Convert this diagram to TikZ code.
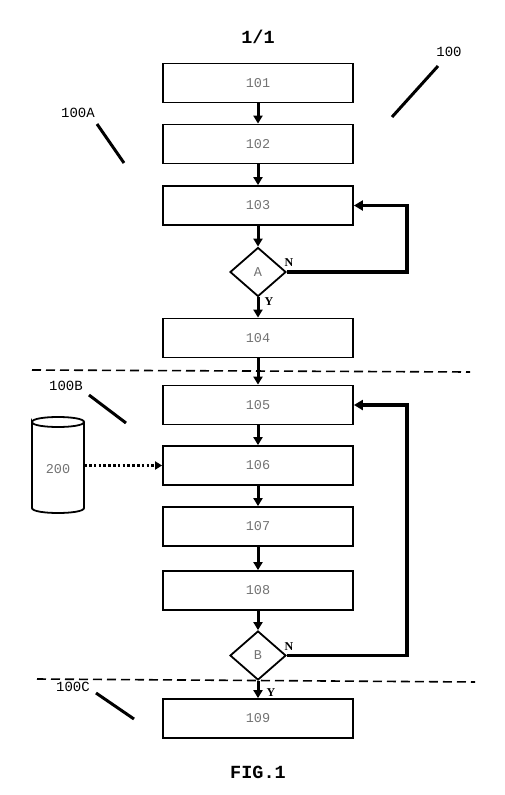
\documentclass[tikz,border=0pt]{standalone}
\usepackage{fontspec}
\setmainfont{Liberation Serif}
\setmonofont{Liberation Mono}
\usetikzlibrary{shapes.geometric,arrows.meta}
\begin{document}
\begin{tikzpicture}[x=1pt,y=-1pt,
 box/.style={draw,line width=1.8pt,minimum width=190pt,minimum height=39pt,inner sep=0pt,font=\ttfamily\fontsize{13.5}{13.5}\selectfont,text=black!55},
 dec/.style={draw,diamond,line width=1.8pt,minimum width=56pt,minimum height=49pt,inner sep=0pt,font=\ttfamily\fontsize{13.5}{13.5}\selectfont,text=black!55},
 flow/.style={line width=3pt,-{Triangle[length=8pt,width=9pt]}},
 loopback/.style={line width=3.5pt,-{Triangle[length=9pt,width=10pt]}},
 sep/.style={line width=1.6pt,dash pattern=on 9pt off 5pt},
 ref/.style={font=\ttfamily\fontsize{14}{14}\selectfont},
 title/.style={font=\ttfamily\bfseries\fontsize{18.5}{18.5}\selectfont},
 yn/.style={font=\bfseries\fontsize{12}{12}\selectfont},
 leader/.style={line width=3pt}]
\useasboundingbox[fill=white] (0,0) rectangle (504,795);

\node[title] (t11) at (258,37) {1/1};
\node[title] (fig) at (258,772) {FIG.1};

\node[box] (b101) at (258,83) {101};
\node[box] (b102) at (258,144) {102};
\node[box] (b103) at (258,205.5) {103};
\node[dec] (dA) at (258,272) {A};
\node[box] (b104) at (258,338) {104};
\node[box] (b105) at (258,405) {105};
\node[box] (b106) at (258,465.5) {106};
\node[box] (b107) at (258,526.5) {107};
\node[box] (b108) at (258,590.5) {108};
\node[dec] (dB) at (258,655.5) {B};
\node[box] (b109) at (258,718.5) {109};

\draw[flow] (b101) -- (b102);
\draw[flow] (b102) -- (b103);
\draw[flow] (b103) -- (dA);
\draw[flow] (dA) -- (b104);
\draw[flow] (b104) -- (b105);
\draw[flow] (b105) -- (b106);
\draw[flow] (b106) -- (b107);
\draw[flow] (b107) -- (b108);
\draw[flow] (b108) -- (dB);
\draw[flow] (dB) -- (b109);

\draw[loopback] (dA.east) -- ++(120,0) |- (b103.east);
\draw[loopback] (dB.east) -- ++(120,0) |- (b105.east);

\node[yn] (nA) at (289,263) {N};
\node[yn] (yA) at (269,302) {Y};
\node[yn] (nB) at (289,647) {N};
\node[yn] (yB) at (271,693) {Y};

\draw[sep] (32,370) -- (470,372);
\draw[sep] (37,679) -- (475,682);

\node[ref] (r100) at (449,52) {100};
\node[ref] (r100A) at (78,113) {100A};
\node[ref] (r100B) at (66,386) {100B};
\node[ref] (r100C) at (73,687) {100C};
\draw[leader] (438,66) -- (392,117);
\draw[leader] (97,124) -- (124,163);
\draw[leader] (89,395) -- (126,423);
\draw[leader] (96,693) -- (134,719);

% cylinder 200
\draw[line width=1.8pt] (32,422) .. controls (32,415.33) and (84,415.33) .. (84,422)
  .. controls (84,428.67) and (32,428.67) .. (32,422) -- (32,508)
  .. controls (32,514.67) and (84,514.67) .. (84,508) -- (84,422);
\node[minimum width=52pt,minimum height=80pt,inner sep=0pt,font=\ttfamily\fontsize{13.5}{13.5}\selectfont,text=black!55] (cyl) at (58,469) {200};
\draw[line width=2.8pt,dash pattern=on 2.6pt off 2.2pt,-{Triangle[length=7pt,width=8pt]}] (cyl.east |- b106.west) -- (b106.west);
\end{tikzpicture}
\end{document}
